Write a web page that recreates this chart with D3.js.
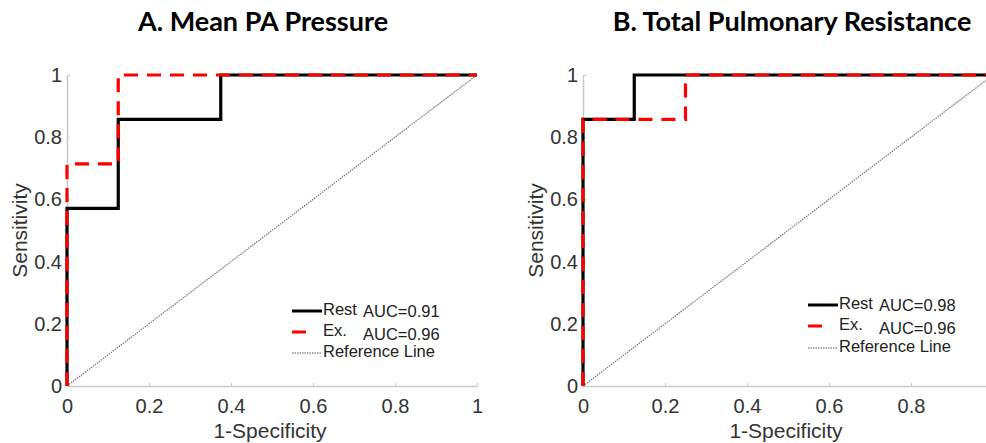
<!DOCTYPE html>
<html>
<head>
<meta charset="utf-8">
<script src="https://cdn.jsdelivr.net/npm/d3@7"></script>
<style>
  body { margin: 0; background: #fff; }
  text { font-family: "Liberation Sans", Arial, sans-serif; }
</style>
</head>
<body>
<script>
// ROC step points, [1-specificity, sensitivity]
const restA = [[0, 0], [0, 0.571], [0.125, 0.571], [0.125, 0.857], [0.375, 0.857], [0.375, 1], [1, 1]];
const exA = [[0, 0], [0, 0.714], [0.125, 0.714], [0.125, 1], [1, 1]];
const restB = [[0, 0], [0, 0.857], [0.125, 0.857], [0.125, 1], [1, 1]];
const exB = [[0, 0], [0, 0.857], [0.25, 0.857], [0.25, 1], [1, 1]];
const refLine = [[0, 0], [1, 1]];
const titles = ["A. Mean PA Pressure", "B. Total Pulmonary Resistance"];
const aucRest = ["AUC=0.91", "AUC=0.98"];
const aucEx = ["AUC=0.96", "AUC=0.96"];
const ticks = [0, 0.2, 0.4, 0.6, 0.8, 1];
// the right panel is cropped in the picture, its last x label is not shown
const xTicksB = [0, 0.2, 0.4, 0.6, 0.8];

const svg = d3.select("body").append("svg")
  .attr("width", 986)
  .attr("height", 443);

const panels = [
  { left: 67, rest: restA, ex: exA, xt: ticks, titleX: 263, legY: [311, 332, 353] },
  { left: 583, rest: restB, ex: exB, xt: xTicksB, titleX: 792, legY: [305, 326, 348] }
];

panels.forEach((p, i) => {
  const x = d3.scaleLinear().domain([0, 1]).range([p.left, p.left + 410]);
  const y = d3.scaleLinear().domain([0, 1]).range([386, 75]);
  const g = svg.append("g");

  // axes (box off, ticks pointing in)
  const xAxis = g.append("g").attr("transform", "translate(0,386)")
    .call(d3.axisBottom(x).tickValues(p.xt).tickSizeInner(-3).tickSizeOuter(0).tickFormat(d3.format("")));
  const yAxis = g.append("g").attr("transform", `translate(${p.left},0)`)
    .call(d3.axisLeft(y).tickValues(ticks).tickSizeInner(-3).tickSizeOuter(0).tickFormat(d3.format("")));
  [xAxis, yAxis].forEach(a => {
    a.select(".domain").attr("stroke", "#c8c8c8").attr("stroke-width", 1.5);
    a.selectAll(".tick line").attr("stroke", "#c8c8c8");
    a.selectAll(".tick text").attr("fill", "#333").style("font-size", "20px")
      .style("font-family", "'Liberation Sans', Arial, sans-serif");
  });
  xAxis.selectAll(".tick text").attr("dy", "1.2em");
  yAxis.selectAll(".tick text").attr("x", -5);

  const line = d3.line().x(d => x(d[0])).y(d => y(d[1]));

  g.append("path").datum(refLine).attr("d", line)
    .attr("fill", "none").attr("stroke", "#777").attr("stroke-width", 1.2)
    .attr("stroke-dasharray", "1.5,1");
  g.append("path").datum(p.rest).attr("d", line)
    .attr("fill", "none").attr("stroke", "#000").attr("stroke-width", 3.2);
  g.append("path").datum(p.ex).attr("d", line)
    .attr("fill", "none").attr("stroke", "#ff0000").attr("stroke-width", 3.2)
    .attr("stroke-dasharray", "14,9");

  // titles and labels
  svg.append("text").attr("x", p.titleX).attr("y", 31)
    .attr("text-anchor", "middle")
    .style("font-family", "Lato, 'Open Sans', sans-serif")
    .style("font-weight", "bold").style("font-size", "27px")
    .text(titles[i]);
  svg.append("text").attr("x", x(0.5) - 2).attr("y", 438)
    .attr("text-anchor", "middle").attr("fill", "#333").style("font-size", "21px")
    .text("1-Specificity");
  svg.append("text")
    .attr("transform", `translate(${p.left - 40},${y(0.5)}) rotate(-90)`)
    .attr("text-anchor", "middle").attr("fill", "#333").style("font-size", "21px")
    .text("Sensitivity");

  // legend
  const lx = p.left + 225;
  const leg = g.append("g");
  leg.append("line").attr("x1", lx).attr("x2", lx + 30).attr("y1", p.legY[0]).attr("y2", p.legY[0])
    .attr("stroke", "#000").attr("stroke-width", 3);
  leg.append("line").attr("x1", lx).attr("x2", lx + 14).attr("y1", p.legY[1]).attr("y2", p.legY[1])
    .attr("stroke", "#ff0000").attr("stroke-width", 3);
  leg.append("line").attr("x1", lx).attr("x2", lx + 30).attr("y1", p.legY[2]).attr("y2", p.legY[2])
    .attr("stroke", "#555").attr("stroke-width", 1).attr("stroke-dasharray", "1.5,1");
  const tstyle = s => s.attr("fill", "#222").style("font-size", "16.5px").attr("dominant-baseline", "middle");
  leg.append("text").attr("x", lx + 31).attr("y", p.legY[0]).text("Rest").call(tstyle);
  leg.append("text").attr("x", lx + 71).attr("y", p.legY[0] + 2).text(aucRest[i]).call(tstyle);
  leg.append("text").attr("x", lx + 31).attr("y", p.legY[1]).text("Ex.").call(tstyle);
  leg.append("text").attr("x", lx + 71).attr("y", p.legY[1] + 4).text(aucEx[i]).call(tstyle);
  leg.append("text").attr("x", lx + 31).attr("y", p.legY[2]).text("Reference Line").call(tstyle);
});
</script>
</body>
</html>
